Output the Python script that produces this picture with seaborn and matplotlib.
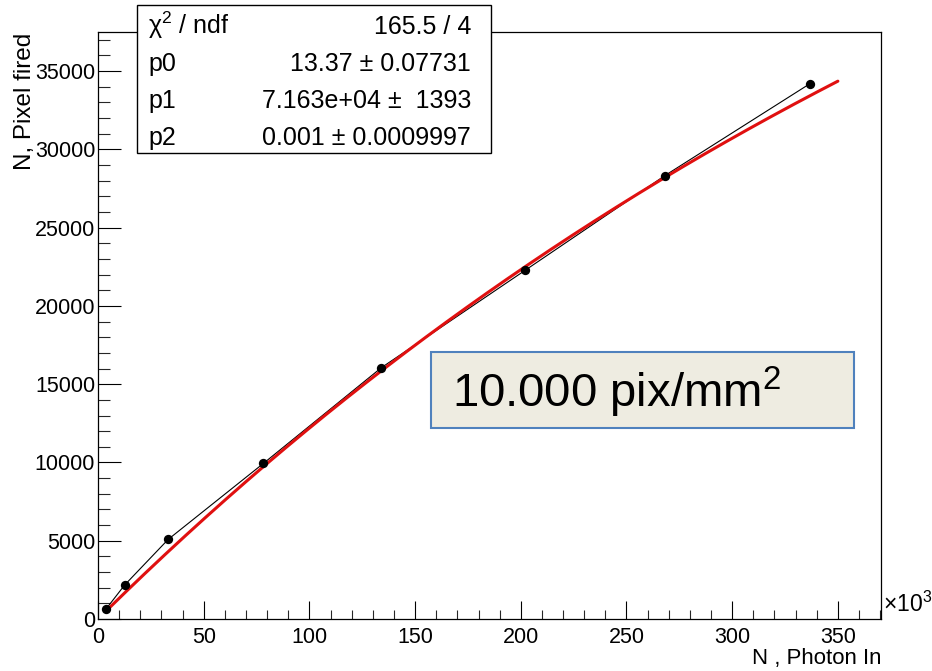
import numpy as np
import pandas as pd
import matplotlib
matplotlib.use("Agg")
import matplotlib.pyplot as plt
from matplotlib.patches import Rectangle
from matplotlib.ticker import MultipleLocator, FixedLocator
import seaborn as sns

# Measured points: incoming photons (in units of 10^3) vs fired pixels
photon_in_k = [3.7, 12.6, 33.2, 78.2, 134.0, 202.0, 268.2, 336.8]
pixel_fired = [620, 2170, 5085, 9935, 16050, 22270, 28330, 34200]

# Fit result shown in the statistics box
fit_labels = ["χ$^{2}$ / ndf", "p0", "p1", "p2"]
fit_values = ["165.5 / 4", "13.37 ± 0.07731", "7.163e+04 ±  1393", "0.001 ± 0.0009997"]
p0, p1, p2 = 13.37, 7.163e4, 0.001
fit_range_k = (5.0, 350.0)

x_ticks = [0, 50, 100, 150, 200, 250, 300, 350]
y_ticks = [0, 5000, 10000, 15000, 20000, 25000, 30000, 35000]

annotation = "10.000 pix/mm$^{2}$"

sns.set_theme(style="white")
plt.rcParams["font.family"] = ["Liberation Sans", "DejaVu Sans"]
plt.rcParams["mathtext.fontset"] = "custom"
plt.rcParams["mathtext.rm"] = "Liberation Sans"
plt.rcParams["mathtext.it"] = "Liberation Sans:italic"
plt.rcParams["mathtext.bf"] = "Liberation Sans:bold"

W, H = 932, 671
fig = plt.figure(figsize=(W / 100, H / 100), dpi=100)
fig.patch.set_facecolor("white")

left, right, top, bottom = 98, 881, 32, 619
ax = fig.add_axes([left / W, 1 - bottom / H, (right - left) / W, (bottom - top) / H])
ax.set_facecolor("white")

df = pd.DataFrame({"photon": photon_in_k, "fired": pixel_fired})

# saturation model: N_fired = p1 * (1 - exp(-(p0/100) * N_photon / p1)) + p2
xf = np.linspace(fit_range_k[0], fit_range_k[1], 400)
yf = p1 * (1.0 - np.exp(-(p0 / 100.0) * xf * 1000.0 / p1)) + p2
fit_df = pd.DataFrame({"photon": xf, "fired": yf})

sns.lineplot(data=df, x="photon", y="fired", ax=ax, color="black", lw=0.8,
             sort=False, estimator=None, zorder=2)
sns.lineplot(data=fit_df, x="photon", y="fired", ax=ax, color="#e01010", lw=2.2,
             sort=False, estimator=None, zorder=3)
sns.scatterplot(data=df, x="photon", y="fired", ax=ax, color="black", s=45,
                edgecolor="black", linewidth=0, zorder=4)

ax.set_xlim(0, 370.4)
ax.set_ylim(0, 37500)
ax.set_xlabel("")
ax.set_ylabel("")

ax.xaxis.set_major_locator(FixedLocator(x_ticks))
ax.xaxis.set_minor_locator(MultipleLocator(10))
ax.yaxis.set_major_locator(FixedLocator(y_ticks))
ax.yaxis.set_minor_locator(MultipleLocator(1000))
ax.set_xticklabels([str(t) for t in x_ticks])
ax.set_yticklabels([str(t) for t in y_ticks])

ax.tick_params(axis="x", which="major", direction="in", length=12.7, width=0.8,
               labelsize=15.5, pad=5.5, colors="black", bottom=True, top=False)
ax.tick_params(axis="x", which="minor", direction="in", length=6.3, width=0.8,
               bottom=True, top=False)
ax.tick_params(axis="y", which="major", direction="in", length=16.9, width=0.8,
               labelsize=15.5, pad=2, colors="black", left=True, right=False)
ax.tick_params(axis="y", which="minor", direction="in", length=8.5, width=0.8,
               left=True, right=False)
for s in ax.spines.values():
    s.set_visible(True)
    s.set_color("black")
    s.set_linewidth(0.9)

# axis titles in ROOT style
fig.text(25 / W, 1 - 33 / H, "N, Pixel fired", rotation=90, ha="center", va="top",
         fontsize=17.5, color="black")
fig.text(881 / W, 1 - 669 / H, "N , Photon In", ha="right", va="bottom",
         fontsize=16, color="black")
fig.text(883 / W, 1 - 604 / H, "×10$^{3}$", ha="left", va="center",
         fontsize=16.5, color="black")

# statistics box
bx0, by0, bx1, by1 = 137, 5, 491, 153
fig.add_artist(Rectangle((bx0 / W, 1 - by1 / H), (bx1 - bx0) / W, (by1 - by0) / H,
                         transform=fig.transFigure, facecolor="white",
                         edgecolor="black", lw=1.0, zorder=5))
baselines = [34, 71, 108, 145]
for lab, val, yb in zip(fit_labels, fit_values, baselines):
    fig.text(148 / W, 1 - yb / H, lab, ha="left", va="baseline", fontsize=18,
             color="black", zorder=6)
    fig.text(471 / W, 1 - yb / H, val, ha="right", va="baseline", fontsize=18,
             color="black", zorder=6)

# pixel density label
tx0, ty0, tx1, ty1 = 431, 352, 854, 428
fig.add_artist(Rectangle((tx0 / W, 1 - ty1 / H), (tx1 - tx0) / W, (ty1 - ty0) / H,
                         transform=fig.transFigure, facecolor="#EEECE1",
                         edgecolor="#4F81BD", lw=1.5, zorder=5))
fig.text(452 / W, 1 - 407 / H, annotation, ha="left", va="baseline", fontsize=34,
         color="black", zorder=6)

fig.savefig("out.png", dpi=100, facecolor="white")
